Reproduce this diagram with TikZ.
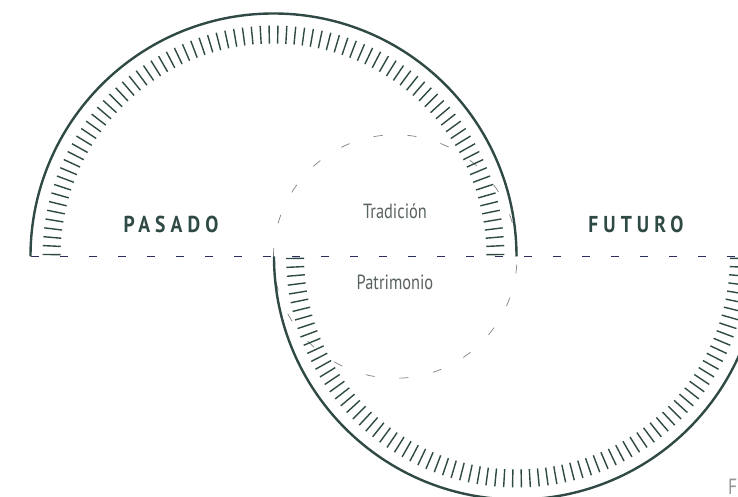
\documentclass[tikz,border=0pt]{standalone}
\usepackage{fontspec}
\usetikzlibrary{calc}
\setmainfont{PT Sans}
\newfontfamily\eraFont[FakeStretch=0.85,LetterSpace=22]{PT Sans Bold}
\newfontfamily\themeFont[FakeStretch=0.8]{PT Sans}
\definecolor{arcgreen}{RGB}{47,74,69}
\definecolor{linenavy}{RGB}{43,45,94}
\definecolor{textgray}{RGB}{88,98,96}
\definecolor{circlegray}{RGB}{125,130,130}
\definecolor{notegray}{RGB}{150,150,150}

\begin{document}
\begin{tikzpicture}[x=1pt, y=1pt,
    halfarc/.style={arcgreen, line width=2.4pt},
    tick/.style={arcgreen, line width=1.4pt},
    era/.style={text=arcgreen, inner sep=0pt, font=\eraFont\fontsize{23}{27}\selectfont},
    theme/.style={text=textgray, inner sep=0pt, font=\themeFont\fontsize{20.5}{24}\selectfont},
    note/.style={text=notegray, inner sep=0pt, font=\themeFont\fontsize{22}{26}\selectfont}]
    \pgfmathsetmacro{\rOut}{243}
    \pgfmathsetmacro{\rTickA}{231}
    \pgfmathsetmacro{\rTickB}{213}
    \pgfmathsetmacro{\midY}{240.5}

    \useasboundingbox (0,0) rectangle (738,497);
    \clip (0,0) rectangle (738,497);

    \coordinate (past) at (273.5,\midY);
    \coordinate (future) at (517,\midY);
    \coordinate (now) at (395.25,\midY);
    \coordinate (lineStart) at (31,\midY);
    \coordinate (lineEnd) at (738,\midY);

    % dashed circle in the middle
    \draw[circlegray, line width=0.7pt, dash pattern=on 9pt off 25pt] (now) circle[radius=121.75pt];

    % the time line
    \draw[linenavy, line width=1.8pt, dash pattern=on 8pt off 21pt] (lineStart) -- (lineEnd);

    % two half circles
    \draw[halfarc] ($(past)+(0:\rOut pt)$) arc[start angle=0, end angle=180, radius=\rOut pt];
    \draw[halfarc] ($(future)+(180:\rOut pt)$) arc[start angle=180, end angle=360, radius=\rOut pt];

    % ticks inside both arcs
    \foreach \k in {0,...,81}{
        \pgfmathsetmacro{\a}{0.5+\k*179/81}
        \draw[tick] ($(past)+(\a:\rTickA pt)$) -- ($(past)+(\a:\rTickB pt)$);
        \draw[tick] ($(future)+(180+\a:\rTickA pt)$) -- ($(future)+(180+\a:\rTickB pt)$);
    }

    \node[era, anchor=base] (pasado) at (171,264) {PASADO};
    \node[era, anchor=base] (futuro) at (636,264) {FUTURO};
    \node[theme, anchor=base] (tradicion) at (395,278) {Tradición};
    \node[theme, anchor=base] (patrimonio) at (395,207) {Patrimonio};
    \node[note, anchor=base west] (fuente) at (728,2) {F};
\end{tikzpicture}
\end{document}
